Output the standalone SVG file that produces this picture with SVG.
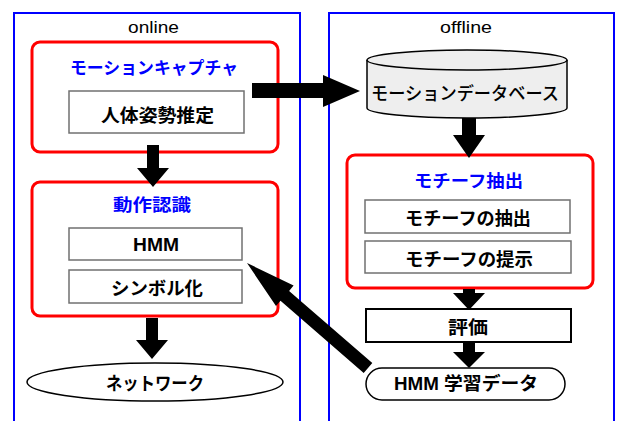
<svg xmlns="http://www.w3.org/2000/svg" width="617" height="421" viewBox="0 0 617 421">
<style>
.frame{fill:none;stroke:#0000ff;stroke-width:2}
.group{fill:#fff;stroke:#ff0000;stroke-width:3}
.inner{fill:#fff;stroke:#707070;stroke-width:1.5}
.box{fill:#fff;stroke:#000;stroke-width:2}
.shape{fill:#fff;stroke:#000;stroke-width:1.5}
.arrow{fill:#000;stroke:none}
text{font-family:"Liberation Sans","Noto Sans CJK JP",sans-serif;font-size:18px;fill:#000}
.lbl{font-family:"Liberation Sans",sans-serif;font-size:17px}
.title{fill:#0000ff;font-weight:bold;font-size:17px}
.b{font-weight:bold}
</style>
<rect width="617" height="421" fill="#fff"/>
<g id="online">
<rect class="frame" x="14" y="13" width="286" height="420"/>
<text class="lbl" x="128" y="33" textLength="51" lengthAdjust="spacingAndGlyphs">online</text>
</g>
<g id="offline">
<rect class="frame" x="329" y="13" width="285" height="420"/>
<text class="lbl" x="440" y="33" textLength="52" lengthAdjust="spacingAndGlyphs">offline</text>
</g>
<g id="mocap">
<rect class="group" x="32" y="42" width="246" height="110" rx="8"/>
<text class="title" x="70" y="74" textLength="168" lengthAdjust="spacingAndGlyphs">モーションキャプチャ</text>
</g>
<g id="pose">
<rect class="inner" x="69" y="91" width="175" height="42"/>
<text class="b" x="101" y="122" textLength="113" lengthAdjust="spacingAndGlyphs">人体姿勢推定</text>
</g>
<g id="recog">
<rect class="group" x="32" y="182" width="246" height="134" rx="8"/>
<text class="title" x="113" y="211" textLength="78" lengthAdjust="spacingAndGlyphs">動作認識</text>
</g>
<g id="hmm">
<rect class="inner" x="69" y="228" width="173" height="32"/>
<text class="b" x="133" y="251" textLength="46" lengthAdjust="spacingAndGlyphs">HMM</text>
</g>
<g id="symbol">
<rect class="inner" x="69" y="270" width="173" height="33"/>
<text class="b" x="111" y="295" textLength="92" lengthAdjust="spacingAndGlyphs">シンボル化</text>
</g>
<g id="network">
<ellipse class="shape" cx="155" cy="382" rx="128" ry="19"/>
<text class="b" x="106" y="390" textLength="98" lengthAdjust="spacingAndGlyphs">ネットワーク</text>
</g>
<g id="motiondb">
<path d="M367,60 L367,108 A100,10 0 0 0 567,108 L567,60" fill="#eeeeee" stroke="#000" stroke-width="1.5"/>
<ellipse cx="467" cy="60" rx="100" ry="10" fill="#eeeeee" stroke="#000" stroke-width="1.5"/>
<text x="371" y="100" textLength="188" lengthAdjust="spacingAndGlyphs" style="font-weight:500">モーションデータベース</text>
</g>
<g id="motif">
<rect class="group" x="347" y="155" width="246" height="133" rx="8"/>
<text class="title" x="414" y="187" textLength="109" lengthAdjust="spacingAndGlyphs">モチーフ抽出</text>
</g>
<g id="extract">
<rect class="inner" x="365" y="200" width="205" height="33"/>
<text class="b" x="405" y="225" textLength="126" lengthAdjust="spacingAndGlyphs">モチーフの抽出</text>
</g>
<g id="present">
<rect class="inner" x="365" y="241" width="206" height="32"/>
<text class="b" x="405" y="266" textLength="128" lengthAdjust="spacingAndGlyphs">モチーフの提示</text>
</g>
<g id="eval">
<rect class="box" x="366" y="309" width="205" height="33"/>
<text class="b" x="448" y="334" textLength="40" lengthAdjust="spacingAndGlyphs">評価</text>
</g>
<g id="hmmdata">
<rect class="shape" x="366" y="368" width="199" height="32" rx="16"/>
<text class="b" x="394" y="390" textLength="144" lengthAdjust="spacingAndGlyphs">HMM 学習データ</text>
</g>
<g id="connectors">
<polygon class="arrow" points="147,145 159,145 159,168 169,168 153,187 137,168 147,168"/>
<polygon class="arrow" points="252,83 323,83 323,75 360,91 323,107 323,98 252,98"/>
<polygon class="arrow" points="462,118 476,118 476,135 485,135 469,158 453,135 462,135"/>
<polygon class="arrow" points="463,289 475,289 475,293 485,293 469,310 453,293 463,293"/>
<polygon class="arrow" points="463,342 475,342 475,352 485,352 469,368 453,352 463,352"/>
<polygon class="arrow" points="146,318 158,318 158,340 168,340 152,359 136,340 146,340"/>
<polygon class="arrow" points="372.3,363.1 289.1,290.9 293.6,285.6 247,263 276,306 280.5,300.7 363.7,372.9"/>
</g>
</svg>
